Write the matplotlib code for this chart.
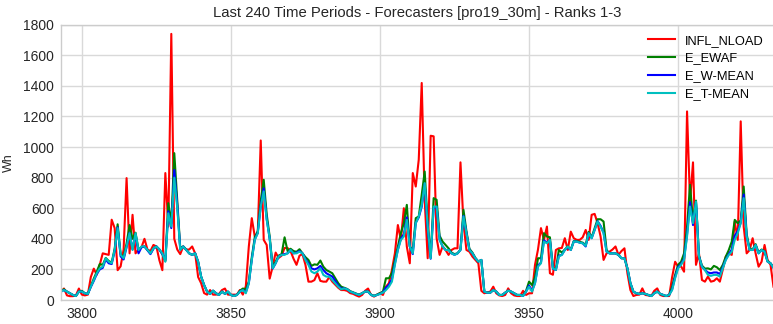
import matplotlib
matplotlib.use("Agg")
import matplotlib.pyplot as plt

periods = list(range(3793, 4033))

infl_nload = [
    55, 75, 30, 25, 25, 30, 75, 35, 30, 35,
    150, 205, 165, 230, 305, 300, 295, 525, 470, 195,
    220, 330, 797, 305, 557, 305, 330, 345, 400, 330,
    320, 360, 350, 260, 195, 830, 480, 1740, 400, 330,
    300, 350, 330, 330, 350, 305, 150, 110, 45, 35,
    65, 35, 35, 40, 65, 75, 35, 35, 35, 35,
    65, 35, 90, 350, 535, 415, 437, 1043, 393, 360,
    140, 218, 310, 275, 290, 340, 340, 320, 270, 230,
    290, 300, 230, 120, 120, 130, 175, 125, 120, 120,
    150, 120, 100, 80, 65, 65, 60, 45, 40, 30,
    22, 33, 60, 75, 33, 22, 35, 45, 33, 87,
    110, 196, 305, 490, 393, 600, 350, 240, 830, 742,
    917, 1419, 650, 273, 1074, 1070, 404, 295, 350, 327,
    295, 327, 338, 338, 900, 502, 327, 316, 284, 262,
    240, 60, 44, 50, 55, 87, 44, 30, 26, 33,
    76, 44, 30, 26, 26, 60, 33, 44, 44, 230,
    330, 470, 393, 480, 175, 165, 327, 338, 340, 404,
    327, 447, 404, 393, 393, 410, 458, 393, 557, 563,
    502, 415, 262, 305, 316, 330, 350, 295, 320, 338,
    175, 65, 26, 33, 35, 76, 33, 30, 26, 60,
    76, 33, 26, 26, 26, 150, 250, 218, 220, 185,
    1233, 644, 900, 230, 305, 131, 120, 153, 120, 125,
    142, 120, 200, 284, 305, 295, 513, 393, 1168, 480,
    305, 327, 404, 305, 218, 250, 360, 262, 230, 87,
]

e_ewaf = [
    60, 70, 55, 44, 33, 26, 55, 60, 44, 40,
    90, 140, 185, 235, 230, 275, 255, 245, 335, 495,
    300, 280, 370, 490, 400, 440, 330, 345, 350, 327,
    305, 338, 350, 330, 300, 255, 633, 500, 960, 650,
    340, 350, 330, 305, 295, 305, 250, 153, 98, 55,
    40, 61, 44, 33, 55, 40, 55, 33, 26, 33,
    60, 75, 70, 120, 280, 410, 450, 650, 786, 560,
    415, 215, 250, 290, 300, 410, 320, 335, 320, 315,
    332, 305, 280, 262, 223, 233, 230, 258, 218, 196,
    186, 175, 142, 110, 87, 80, 72, 58, 50, 42,
    35, 45, 55, 55, 35, 28, 35, 45, 55, 142,
    142, 175, 262, 350, 437, 502, 622, 350, 327, 535,
    546, 688, 840, 500, 280, 666, 655, 420, 382, 360,
    338, 310, 300, 305, 330, 590, 450, 335, 310, 275,
    251, 262, 55, 48, 48, 65, 55, 33, 33, 48,
    61, 55, 44, 33, 33, 30, 60, 120, 98, 150,
    273, 273, 437, 415, 410, 210, 200, 327, 310, 330,
    350, 330, 385, 385, 380, 375, 360, 445, 410, 470,
    528, 528, 513, 327, 305, 305, 305, 295, 273, 273,
    207, 110, 55, 44, 40, 44, 40, 33, 26, 44,
    55, 40, 33, 26, 33, 87, 164, 230, 250, 305,
    480, 753, 520, 650, 290, 225, 205, 207, 200, 223,
    214, 196, 230, 284, 327, 382, 524, 502, 520, 742,
    430, 335, 330, 365, 310, 330, 320, 255, 240, 215,
]

e_w_mean = [
    55, 65, 55, 44, 33, 26, 55, 55, 44, 40,
    85, 125, 170, 200, 210, 265, 240, 235, 320, 475,
    285, 265, 345, 440, 330, 430, 305, 345, 350, 325,
    300, 335, 350, 330, 300, 260, 580, 470, 850, 620,
    330, 350, 327, 305, 295, 305, 250, 153, 98, 55,
    40, 61, 44, 33, 55, 40, 55, 33, 26, 33,
    55, 65, 50, 110, 265, 395, 440, 615, 730, 530,
    400, 205, 240, 284, 295, 300, 305, 327, 305, 310,
    320, 305, 268, 240, 207, 200, 207, 223, 196, 175,
    164, 153, 125, 95, 75, 76, 70, 55, 48, 40,
    33, 44, 55, 55, 33, 26, 33, 40, 50, 80,
    100, 135, 240, 330, 400, 430, 540, 350, 300, 505,
    540, 610, 760, 470, 270, 600, 610, 395, 350, 327,
    327, 305, 295, 305, 327, 550, 437, 327, 305, 273,
    251, 262, 55, 48, 48, 65, 55, 33, 33, 48,
    61, 55, 44, 33, 33, 26, 55, 95, 60, 110,
    225, 245, 390, 375, 393, 205, 196, 290, 295, 327,
    345, 327, 382, 382, 375, 371, 350, 437, 404, 458,
    515, 485, 440, 316, 305, 305, 305, 295, 273, 273,
    207, 110, 55, 44, 40, 44, 40, 33, 26, 44,
    55, 40, 33, 26, 33, 70, 150, 215, 235, 270,
    430, 640, 490, 640, 285, 218, 196, 180, 175, 180,
    180, 170, 215, 265, 300, 330, 420, 450, 505, 690,
    415, 327, 327, 360, 305, 327, 316, 251, 240, 210,
]

e_t_mean = [
    55, 65, 55, 44, 33, 26, 55, 55, 44, 40,
    87, 130, 175, 207, 218, 273, 250, 240, 327, 470,
    295, 273, 350, 437, 327, 437, 327, 350, 350, 327,
    305, 338, 350, 330, 305, 250, 567, 480, 800, 600,
    327, 350, 327, 305, 295, 305, 250, 153, 98, 55,
    40, 61, 44, 33, 55, 40, 55, 33, 26, 33,
    55, 65, 44, 110, 262, 393, 437, 611, 710, 524,
    404, 207, 240, 284, 295, 295, 305, 327, 305, 305,
    316, 305, 262, 230, 186, 175, 186, 207, 164, 153,
    153, 131, 110, 87, 70, 76, 70, 55, 48, 40,
    33, 44, 55, 55, 33, 26, 33, 40, 48, 65,
    87, 120, 230, 327, 393, 415, 524, 350, 305, 502,
    546, 620, 764, 480, 273, 611, 611, 393, 350, 327,
    327, 305, 295, 305, 327, 546, 437, 327, 305, 273,
    251, 262, 55, 48, 48, 65, 55, 33, 33, 48,
    61, 55, 44, 33, 33, 26, 55, 87, 55, 110,
    218, 240, 382, 371, 393, 207, 196, 284, 295, 327,
    350, 327, 382, 382, 375, 371, 354, 437, 404, 458,
    513, 480, 437, 316, 305, 305, 305, 295, 273, 273,
    207, 110, 55, 44, 40, 44, 40, 33, 26, 44,
    55, 40, 33, 26, 33, 65, 142, 207, 230, 262,
    415, 611, 502, 644, 284, 218, 196, 164, 158, 164,
    164, 153, 207, 262, 295, 316, 393, 437, 502, 666,
    415, 327, 327, 360, 305, 327, 316, 251, 240, 210,
]

series_names = ["INFL_NLOAD", "E_EWAF", "E_W-MEAN", "E_T-MEAN"]
series_colors = ["#ff0000", "#008000", "#0000ff", "#00bfbf"]
x_ticks = [3800, 3850, 3900, 3950, 4000]
y_ticks = [0, 200, 400, 600, 800, 1000, 1200, 1400, 1600, 1800]
title = "Last 240 Time Periods - Forecasters [pro19_30m] - Ranks 1-3"

plt.rcParams['font.family'] = ['Liberation Sans', 'DejaVu Sans']

W, H = 773, 324
fig = plt.figure(figsize=(W / 100, H / 100), dpi=100)
ax_right = 773.5
ax_w = ax_right - 61
ax_h = 300 - 24.7
ax = fig.add_axes([61 / W, (H - 300) / H, ax_w / W, ax_h / H])
ax.set_facecolor("white")

for vals, name, col in zip([infl_nload, e_ewaf, e_w_mean, e_t_mean], series_names, series_colors):
    ax.plot(periods, vals, color=col, lw=1.5, label=name)

ax.set_xlim(periods[0], periods[-1])
ax.set_ylim(0, 1800)
ax.set_xticks(x_ticks)
ax.set_yticks(y_ticks)
ax.grid(True, color="#d9d9d9", lw=1.0)
ax.set_axisbelow(True)
for s in ax.spines.values():
    s.set_color("#cccccc")
    s.set_linewidth(1.0)
ax.tick_params(length=0, labelsize=10, colors="#262626", pad=5)
ax.set_ylabel("Wh", fontsize=9, color="#262626")
ax.yaxis.set_label_coords((15 - 61) / ax_w, 0.5)
ax.set_title(title, fontsize=10.7, color="#262626", pad=5.5)
leg = ax.legend(loc="upper right", frameon=False, fontsize=9.3, handlelength=2.1,
                handletextpad=0.78, labelspacing=0.45, borderaxespad=0.0,
                bbox_to_anchor=((769 - 61) / ax_w, (300 - 29.5) / ax_h))

fig.savefig("out.png", dpi=100)
